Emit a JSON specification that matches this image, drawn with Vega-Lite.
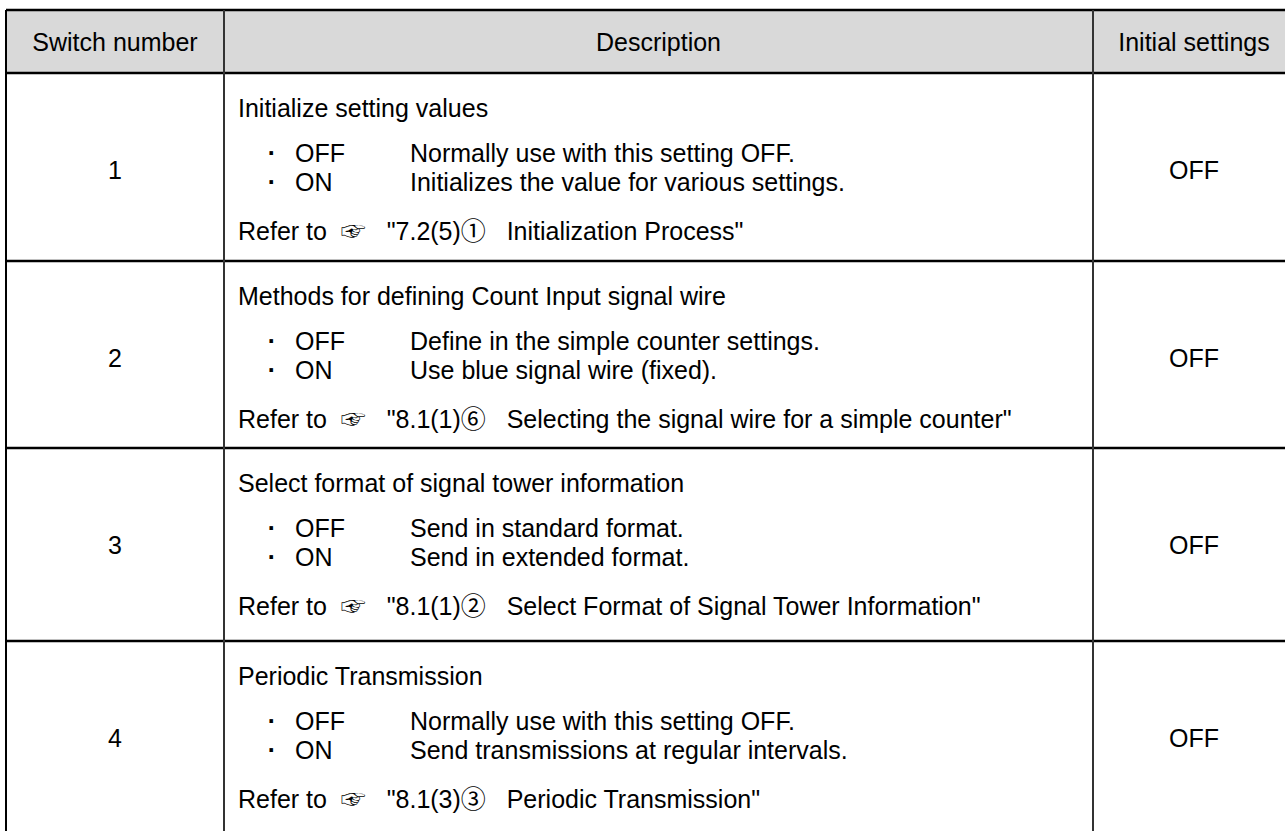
{
  "$schema": "https://vega.github.io/schema/vega-lite/v6.json",
  "width": 1285,
  "height": 831,
  "padding": 0,
  "autosize": {"type": "fit", "contains": "padding"},
  "background": "white",
  "config": {"view": {"stroke": null}, "text": {"font": "Liberation Sans, Noto Sans CJK JP, DejaVu Sans", "fontSize": 25, "color": "#000000", "baseline": "middle"}},
  "datasets": {
    "header": [{"h1": "Switch number", "h2": "Description", "h3": "Initial settings"}],
    "edges": [{"edge": 0, "shade": "border"}, {"edge": 1, "shade": "divider"}, {"edge": 2, "shade": "divider"}],
    "body": [
      {"sw": 1, "title": "Initialize setting values", "off": "Normally use with this setting OFF.", "on": "Initializes the value for various settings.", "ref": "Refer to\u00a0\u00a0☞\u00a0\u00a0\u00a0\"7.2(5)①\u00a0\u00a0\u00a0Initialization Process\"", "init": "OFF"},
      {"sw": 2, "title": "Methods for defining Count Input signal wire", "off": "Define in the simple counter settings.", "on": "Use blue signal wire (fixed).", "ref": "Refer to\u00a0\u00a0☞\u00a0\u00a0\u00a0\"8.1(1)⑥\u00a0\u00a0\u00a0Selecting the signal wire for a simple counter\"", "init": "OFF"},
      {"sw": 3, "title": "Select format of signal tower information", "off": "Send in standard format.", "on": "Send in extended format.", "ref": "Refer to\u00a0\u00a0☞\u00a0\u00a0\u00a0\"8.1(1)②\u00a0\u00a0\u00a0Select Format of Signal Tower Information\"", "init": "OFF"},
      {"sw": 4, "title": "Periodic Transmission", "off": "Normally use with this setting OFF.", "on": "Send transmissions at regular intervals.", "ref": "Refer to\u00a0\u00a0☞\u00a0\u00a0\u00a0\"8.1(3)③\u00a0\u00a0\u00a0Periodic Transmission\"", "init": "OFF"}
    ]
  },
  "layer": [
    {
      "data": {"name": "header"},
      "mark": {"type": "rect", "fill": "#d9d9d9"},
      "encoding": {
        "x": {"datum": 0, "type": "quantitative", "scale": {"domain": [0, 1, 2, 3], "range": [6, 224, 1093, 1295], "nice": false, "zero": false}, "axis": null},
        "x2": {"datum": 3},
        "y": {"datum": 0, "type": "quantitative", "scale": {"domain": [0, 1, 2, 3, 4, 5], "range": [10, 73, 261, 448, 641, 840], "nice": false, "zero": false}, "axis": null},
        "y2": {"datum": 1}
      }
    },
    {
      "data": {"name": "body"},
      "mark": {"type": "rule", "stroke": "#000000", "strokeWidth": 2.5},
      "encoding": {
        "x": {"datum": 0, "type": "quantitative"},
        "x2": {"datum": 3},
        "y": {"field": "sw", "type": "quantitative"}
      }
    },
    {
      "data": {"name": "header"},
      "mark": {"type": "rule", "stroke": "#000000", "strokeWidth": 2.5},
      "encoding": {
        "x": {"datum": 0, "type": "quantitative"},
        "x2": {"datum": 3},
        "y": {"datum": 0, "type": "quantitative"}
      }
    },
    {
      "data": {"name": "edges"},
      "mark": {"type": "rule", "strokeWidth": 2},
      "encoding": {
        "x": {"field": "edge", "type": "quantitative"},
        "y": {"datum": 0, "type": "quantitative"},
        "y2": {"datum": 5},
        "color": {"field": "shade", "type": "nominal", "scale": {"domain": ["border", "divider"], "range": ["#000000", "#333333"]}, "legend": null}
      }
    },
    {
      "data": {"name": "header"},
      "mark": {"type": "text", "align": "center", "dy": 1},
      "encoding": {
        "x": {"datum": 0.5, "type": "quantitative"},
        "y": {"datum": 0.5, "type": "quantitative"},
        "text": {"field": "h1"}
      }
    },
    {
      "data": {"name": "header"},
      "mark": {"type": "text", "align": "center", "dy": 1},
      "encoding": {
        "x": {"datum": 1.5, "type": "quantitative"},
        "y": {"datum": 0.5, "type": "quantitative"},
        "text": {"field": "h2"}
      }
    },
    {
      "data": {"name": "header"},
      "mark": {"type": "text", "align": "center", "dy": 1},
      "encoding": {
        "x": {"datum": 2.5, "type": "quantitative"},
        "y": {"datum": 0.5, "type": "quantitative"},
        "text": {"field": "h3"}
      }
    },
    {
      "data": {"name": "body"},
      "mark": {"type": "text", "align": "center", "dy": 98},
      "encoding": {
        "x": {"datum": 0.5, "type": "quantitative"},
        "y": {"field": "sw", "type": "quantitative"},
        "text": {"field": "sw"}
      }
    },
    {
      "data": {"name": "body"},
      "mark": {"type": "text", "align": "center", "dy": 98},
      "encoding": {
        "x": {"datum": 2.5, "type": "quantitative"},
        "y": {"field": "sw", "type": "quantitative"},
        "text": {"field": "init"}
      }
    },
    {
      "data": {"name": "body"},
      "mark": {"type": "text", "align": "left", "dx": 14, "dy": 36},
      "encoding": {
        "x": {"datum": 1, "type": "quantitative"},
        "y": {"field": "sw", "type": "quantitative"},
        "text": {"field": "title"}
      }
    },
    {
      "data": {"name": "body"},
      "mark": {"type": "text", "align": "center", "dx": 48, "dy": 81, "fontWeight": "bold"},
      "encoding": {
        "x": {"datum": 1, "type": "quantitative"},
        "y": {"field": "sw", "type": "quantitative"},
        "text": {"value": "·"}
      }
    },
    {
      "data": {"name": "body"},
      "mark": {"type": "text", "align": "center", "dx": 48, "dy": 110, "fontWeight": "bold"},
      "encoding": {
        "x": {"datum": 1, "type": "quantitative"},
        "y": {"field": "sw", "type": "quantitative"},
        "text": {"value": "·"}
      }
    },
    {
      "data": {"name": "body"},
      "mark": {"type": "text", "align": "left", "dx": 71, "dy": 81},
      "encoding": {
        "x": {"datum": 1, "type": "quantitative"},
        "y": {"field": "sw", "type": "quantitative"},
        "text": {"value": "OFF"}
      }
    },
    {
      "data": {"name": "body"},
      "mark": {"type": "text", "align": "left", "dx": 71, "dy": 110},
      "encoding": {
        "x": {"datum": 1, "type": "quantitative"},
        "y": {"field": "sw", "type": "quantitative"},
        "text": {"value": "ON"}
      }
    },
    {
      "data": {"name": "body"},
      "mark": {"type": "text", "align": "left", "dx": 186, "dy": 81},
      "encoding": {
        "x": {"datum": 1, "type": "quantitative"},
        "y": {"field": "sw", "type": "quantitative"},
        "text": {"field": "off"}
      }
    },
    {
      "data": {"name": "body"},
      "mark": {"type": "text", "align": "left", "dx": 186, "dy": 110},
      "encoding": {
        "x": {"datum": 1, "type": "quantitative"},
        "y": {"field": "sw", "type": "quantitative"},
        "text": {"field": "on"}
      }
    },
    {
      "data": {"name": "body"},
      "mark": {"type": "text", "align": "left", "dx": 14, "dy": 159},
      "encoding": {
        "x": {"datum": 1, "type": "quantitative"},
        "y": {"field": "sw", "type": "quantitative"},
        "text": {"field": "ref"}
      }
    }
  ]
}
